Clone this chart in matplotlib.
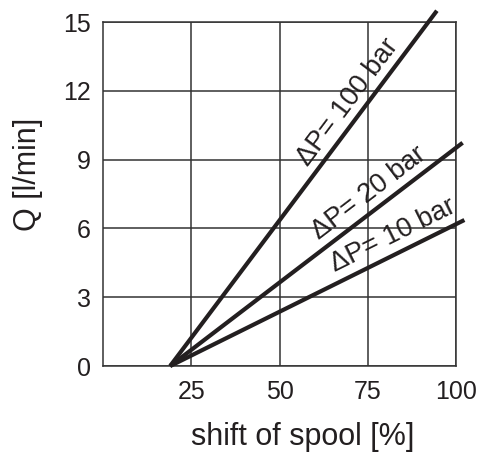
import numpy as np
import matplotlib
matplotlib.use("Agg")
import matplotlib.pyplot as plt

plt.rcParams["font.family"] = ["Liberation Sans", "DejaVu Sans"]

# characteristic lines: spool shift [%] vs flow [l/min]
labels = ["ΔP= 100 bar", "ΔP= 20 bar", "ΔP= 10 bar"]
x_start = [19.0, 19.0, 19.0]
x_end = [94.6, 101.9, 102.4]
q_end = [15.5, 9.74, 6.37]

# where the rotated labels sit (data coords)
label_x = [69.3, 75.3, 82.1]
label_y = [11.5, 7.55, 5.7]

xticks = [25, 50, 75, 100]
yticks = [0, 3, 6, 9, 12, 15]

ink = "#231f20"

fig = plt.figure(figsize=(4.84, 4.53), dpi=100)
ax = fig.add_axes([0.213, 0.192, 0.729, 0.759])
ax.set_xlim(0, 100)
ax.set_ylim(0, 15)
ax.set_xticks(xticks)
ax.set_yticks(yticks)
ax.grid(True, color="#333333", linewidth=1.1)
ax.set_axisbelow(True)
for sp in ax.spines.values():
    sp.set_color("#333333")
    sp.set_linewidth(1.1)
ax.tick_params(length=0, labelsize=18, colors=ink)
ax.tick_params(axis="x", pad=10)
ax.tick_params(axis="y", pad=9)

for i in range(len(labels)):
    ax.plot([x_start[i], x_end[i]], [0, q_end[i]], color=ink, lw=3.0,
            solid_capstyle="butt", clip_on=False, zorder=3)
    # angle of the line on screen
    p0 = ax.transData.transform((x_start[i], 0))
    p1 = ax.transData.transform((x_end[i], q_end[i]))
    ang = np.degrees(np.arctan2(p1[1] - p0[1], p1[0] - p0[0]))
    ax.text(label_x[i], label_y[i], labels[i], rotation=ang,
            rotation_mode="anchor", ha="center", va="center",
            fontsize=19.5, color=ink)

ax.text(0.565, -0.206, "shift of spool [%]", transform=ax.transAxes,
        ha="center", va="center", fontsize=22, color=ink)
ax.text(-0.212, 0.558, "Q [l/min]", transform=ax.transAxes, rotation=90,
        ha="center", va="center", fontsize=22, color=ink)

fig.savefig("out.png", dpi=100)
